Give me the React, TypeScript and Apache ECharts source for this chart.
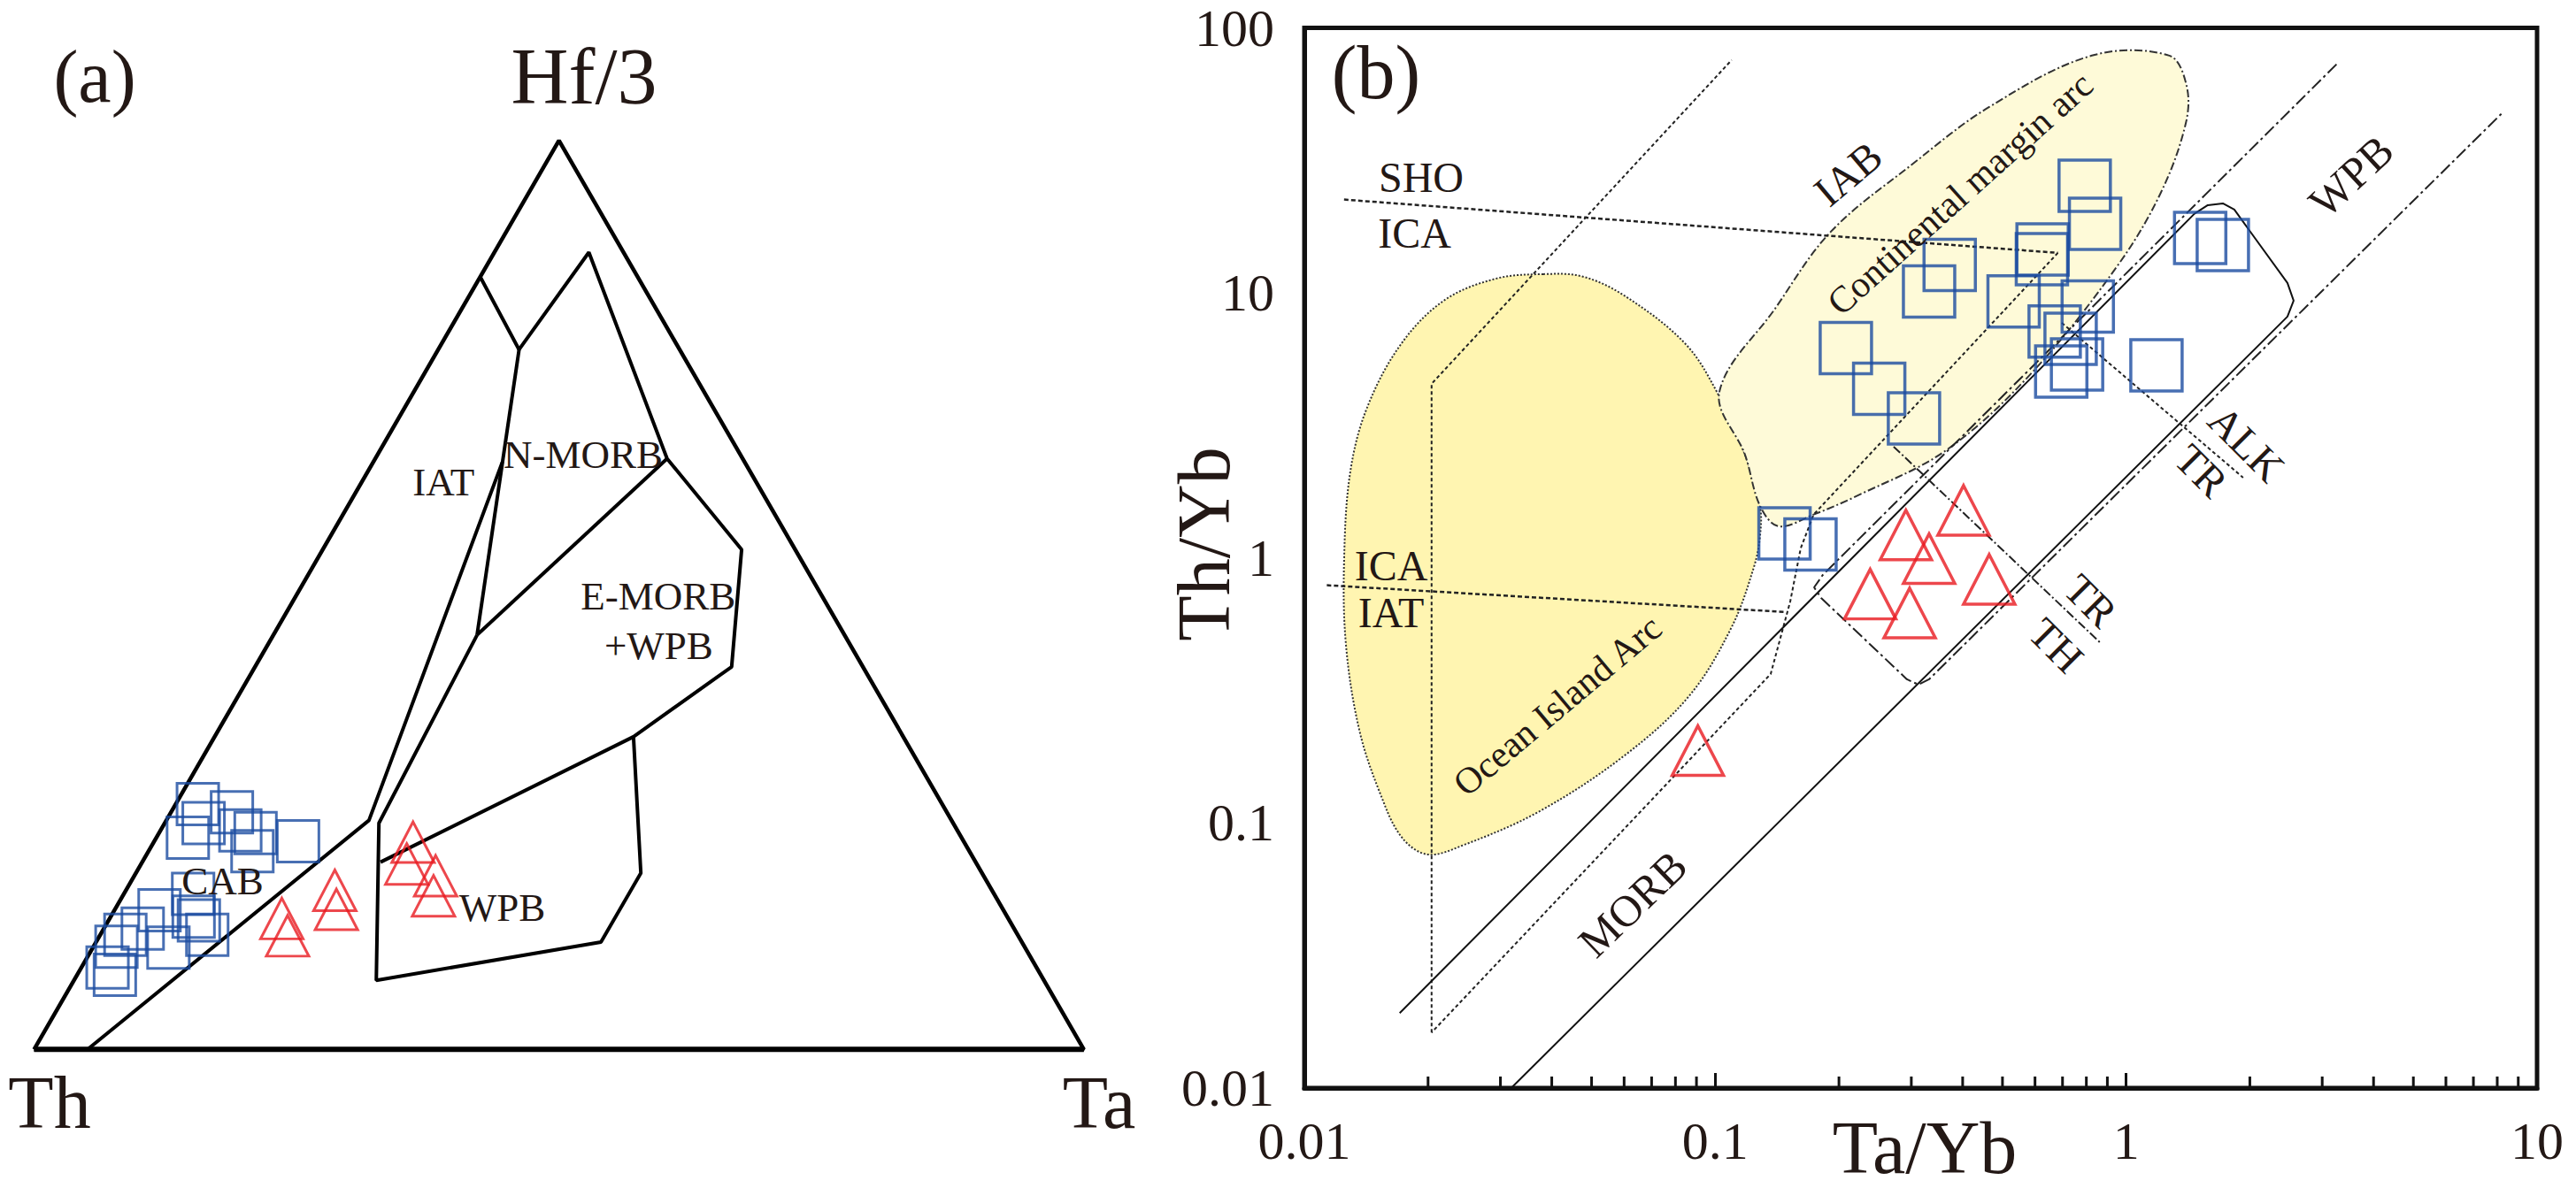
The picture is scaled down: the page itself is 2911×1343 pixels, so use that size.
import React, { useEffect, useRef } from "react";
import * as echarts from "echarts";

const SERIF = "'Liberation Serif', 'Times New Roman', serif";
const INK = "#231815";
const BLUE = "#1A4BA0";
const RED = "#E8191F";
const SQ3 = Math.sqrt(3) / 2;

// ---------- Panel (a): Th - Hf/3 - Ta ternary, values as [Th, Hf/3, Ta] (%) ----------
const ternSquares = [
  [70.9, 27.0, 2.1], [68.1, 26.1, 5.8], [71.4, 24.9, 3.7], [73.7, 23.3, 3.0],
  [68.3, 24.1, 7.6], [67.0, 23.8, 9.2], [68.3, 21.8, 9.9], [63.4, 22.9, 13.7],
  [76.3, 17.1, 6.6], [80.4, 15.3, 4.3], [77.5, 14.6, 7.9], [77.2, 14.2, 8.6],
  [77.2, 12.6, 10.2], [83.0, 13.3, 3.7], [85.0, 12.6, 2.4], [81.6, 11.2, 7.2],
  [86.5, 11.3, 2.2], [88.5, 9.0, 2.5], [88.2, 8.2, 3.6],
];
const ternTriangles = [
  [69.2, 14.4, 16.4], [69.6, 12.5, 17.9], [62.6, 17.5, 19.9], [63.5, 15.4, 21.1],
  [52.5, 22.8, 24.7], [54.3, 20.4, 25.3], [52.2, 19.1, 28.7], [53.5, 16.9, 29.6],
];
const ternCorners = [[100, 0, 0], [0, 0, 100], [0, 100, 0], [100, 0, 0]];
const ternBase = [[100, 0, 0], [0, 0, 100]];
const ternVertices: Record<string, number[]> = {
  A: [94.9, 0, 5.1], B: [55.5, 25.2, 19.3], C: [23.1, 64.6, 12.3],
  D: [15.0, 85.0, 0], E: [15.3, 77.0, 7.7], F: [3.3, 87.7, 9.0],
  G: [7.2, 65.0, 27.8], H: [5.1, 55.0, 39.9], I: [12.5, 42.1, 45.4],
  J: [25.7, 34.4, 39.9], K: [56.7, 20.6, 22.7], L: [35.0, 45.6, 19.4],
  M: [54.7, 24.9, 20.4], N: [63.6, 7.6, 28.8], O: [40.1, 11.8, 48.1],
  P: [32.5, 19.4, 48.1],
};
const ternBoundaries = [
  ["A", "B", "C"],
  ["D", "E", "F", "G", "H", "I", "J", "K"],
  ["E", "L"],
  ["G", "L"],
  ["L", "M", "N", "O", "P", "J"],
];
const ternLabels = [
  { text: "IAT", v: [29.8, 62.4, 7.8] },
  { text: "N-MORB", v: [15.0, 65.4, 19.6] },
  { text: "E-MORB", v: [15.6, 49.9, 34.5] },
  { text: "+WPB", v: [18.3, 44.4, 37.3] },
  { text: "CAB", v: [72.8, 18.5, 8.7] },
  { text: "WPB", v: [47.6, 15.6, 36.8] },
];

// ---------- Panel (b): Th/Yb vs Ta/Yb (log-log) ----------
const xTicks = [0.01, 0.1, 1, 10];
const yTicks = [0.01, 0.1, 1, 10, 100];
const minorTicks = [0.02, 0.03, 0.04, 0.05, 0.06, 0.07, 0.08, 0.09, 0.2, 0.3, 0.4, 0.5, 0.6, 0.7, 0.8, 0.9, 2, 3, 4, 5, 6, 7, 8, 9];

const bSquares = [
  [0.2079, 6.19], [0.2506, 4.35], [0.3045, 3.363], [0.1474, 1.238], [0.1705, 1.124],
  [0.3314, 10.12], [0.372, 12.75], [0.7927, 25.38], [0.8402, 18.24], [0.6237, 13.41],
  [0.626, 14.6], [0.5322, 9.29], [0.8064, 8.885], [0.6699, 7.157], [0.7325, 6.717],
  [0.7594, 5.374], [0.695, 5.053], [1.185, 5.333], [1.514, 16.13], [1.719, 15.17],
];
const bTriangles = [
  [0.402, 1.512], [0.4642, 0.8302], [0.3314, 0.9938], [0.291, 1.221],
  [0.2382, 0.7305], [0.2972, 0.6201], [0.0907, 0.1875],
];

const oceanArcField = [
  [0.03815, 11.77], [0.02934, 11.33], [0.022, 9.42], [0.01725, 6.46], [0.01422, 3.7],
  [0.01294, 2.12], [0.0125, 1.006], [0.01262, 0.4738], [0.0136, 0.2248], [0.01532, 0.1283],
  [0.01725, 0.0884], [0.01993, 0.0761], [0.02417, 0.0821], [0.03722, 0.1104], [0.06018, 0.1799],
  [0.08644, 0.302], [0.1096, 0.5483], [0.1242, 0.9247], [0.1285, 1.21], [0.1285, 1.572],
  [0.1181, 2.454], [0.101, 4.22], [0.0843, 6.46], [0.06018, 9.75], [0.04744, 11.54],
];
const contArcField = [
  [0.1023, 4.22], [0.1398, 8.72], [0.1911, 17.02], [0.3, 30.38], [0.4642, 50.3],
  [0.8252, 78.6], [1.273, 78.6], [1.403, 60.5], [1.396, 43.5], [1.214, 23.86],
  [0.9526, 12.66], [0.5888, 4.989], [0.3649, 2.55], [0.2228, 1.723], [0.1735, 1.458],
  [0.1426, 1.317], [0.1285, 1.572], [0.1181, 2.454],
];

const arcDivide = [[0.0204, 0.0162], [0.0204, 4.54], [0.1096, 75.6]];
const shoIca = [[0.01249, 22.5], [0.682, 14.16]];
const icaIat = [[0.01134, 0.789], [0.1484, 0.625]];
const arcLower = [[0.682, 14.16], [0.1735, 1.458], [0.1614, 1.087], [0.1522, 0.685], [0.1364, 0.3648], [0.0204, 0.0162]];
const morbArray = [
  [0.01706, 0.01917], [1.466, 19.89], [1.58, 21.43], [1.719, 21.76], [1.833, 20.62],
  [2.469, 10.9], [2.556, 9.35], [2.469, 8.14], [0.03186, 0.01],
];
const wpbArray = [
  [3.251, 72.9], [0.1827, 0.863], [0.174, 0.7747], [0.181, 0.7065], [0.2927, 0.3484],
  [0.3123, 0.3327], [0.3314, 0.3484], [8.3, 48.4],
];
const trThDivide = [[0.2717, 2.63], [0.8713, 0.4738]];
const alkTrDivide = [[0.6971, 7.71], [1.926, 2.01]];

const bLabels = [
  { text: "SHO", x: 0.01924, y: 27.2, rot: 0, size: 48 },
  { text: "ICA", x: 0.01855, y: 16.76, rot: 0, size: 48 },
  { text: "ICA", x: 0.01626, y: 0.9318, rot: 0, size: 48 },
  { text: "IAT", x: 0.01626, y: 0.62, rot: 0, size: 48 },
  { text: "IAB", x: 0.2103, y: 28.2, rot: 40, size: 48 },
  { text: "Continental margin arc", x: 0.3941, y: 23.68, rot: 42, size: 42 },
  { text: "Ocean Island Arc", x: 0.04127, y: 0.2777, rot: 40, size: 42 },
  { text: "MORB", x: 0.06292, y: 0.04957, rot: 44, size: 50 },
  { text: "WPB", x: 3.527, y: 27.6, rot: 43, size: 50 },
  { text: "ALK", x: 1.965, y: 2.701, rot: -45, size: 48 },
  { text: "TR", x: 1.526, y: 2.137, rot: -45, size: 48 },
  { text: "TR", x: 0.8209, y: 0.6904, rot: -45, size: 48 },
  { text: "TH", x: 0.6765, y: 0.4685, rot: -45, size: 48 },
];

function tern(v: number[]) {
  const s = v[0] + v[1] + v[2];
  return [(v[2] + v[1] / 2) / s, (v[1] * SQ3) / s];
}

function fmt(v: number) {
  return String(parseFloat(Number(v).toPrecision(3)));
}

function lineSeries(name: string, data: number[][], axis: number, style: any, z = 3) {
  return {
    name, type: "line", data, xAxisIndex: axis, yAxisIndex: axis,
    symbol: "none", showSymbol: false, clip: false, silent: true, z,
    lineStyle: style, animation: false,
  };
}

function textSeries(name: string, items: { text: string; x: number; y: number; rot: number; size: number }[], axis: number) {
  return {
    name, type: "custom", xAxisIndex: axis, yAxisIndex: axis, clip: false, silent: true, z: 6,
    data: items.map((l) => [l.x, l.y]),
    renderItem: (params: any, api: any) => {
      const l = items[params.dataIndex];
      const p = api.coord([l.x, l.y]);
      return {
        type: "text", x: p[0], y: p[1], rotation: (l.rot * Math.PI) / 180,
        style: { text: l.text, fontSize: l.size, fontFamily: SERIF, fill: INK, align: "center", verticalAlign: "middle" },
      };
    },
  };
}

function fieldSeries(name: string, pts: number[][], fill: string, stroke: string, dash: number[], width: number) {
  return {
    name, type: "custom", xAxisIndex: 1, yAxisIndex: 1, clip: false, silent: true, z: 1,
    data: [pts[0]],
    renderItem: (_params: any, api: any) => {
      const points = pts.map((p) => api.coord(p));
      return {
        type: "polygon",
        shape: { points, smooth: 0.35 },
        style: { fill, stroke, lineWidth: width, lineDash: dash },
      };
    },
  };
}

export default function App() {
  const ref = useRef<HTMLDivElement>(null);
  useEffect(() => {
    if (!ref.current) return;
    const chart = echarts.init(ref.current, undefined, { renderer: "svg" });

    const ternBoundarySeries = ternBoundaries.map((b, i) =>
      lineSeries("ternBoundary" + i, b.map((k) => tern(ternVertices[k])), 0, { color: "#000", width: 4, type: "solid" })
    );

    const option: any = {
      animation: false,
      backgroundColor: "#fff",
      textStyle: { fontFamily: SERIF },
      grid: [
        { left: 38.5, top: 158.9, width: 1186.3, height: 1027.4, show: false },
        { left: 1474, top: 31.5, width: 1393, height: 1198.5, show: true, borderColor: "#111", borderWidth: 5, backgroundColor: "transparent" },
      ],
      xAxis: [
        { gridIndex: 0, type: "value", min: 0, max: 1, show: false },
        {
          gridIndex: 1, type: "log", logBase: 10, min: xTicks[0], max: xTicks[xTicks.length - 1],
          axisLine: { show: true, lineStyle: { color: "#111", width: 5 } },
          axisTick: { show: true, inside: true, length: 17, lineStyle: { color: "#111", width: 3 } },
          axisLabel: { fontSize: 60, fontFamily: SERIF, color: INK, margin: 30, formatter: fmt },
          splitLine: { show: false },
        },
      ],
      yAxis: [
        { gridIndex: 0, type: "value", min: 0, max: SQ3, show: false },
        {
          gridIndex: 1, type: "log", logBase: 10, min: yTicks[0], max: yTicks[yTicks.length - 1],
          axisLine: { show: true, lineStyle: { color: "#111", width: 5 } },
          axisTick: { show: false },
          axisLabel: { fontSize: 60, fontFamily: SERIF, color: INK, margin: 34, formatter: fmt },
          splitLine: { show: false },
        },
      ],
      graphic: [
        { type: "text", x: 107, y: 86, style: { text: "(a)", fontSize: 84, fontFamily: SERIF, fill: INK, align: "center", verticalAlign: "middle" } },
        { type: "text", x: 660, y: 86, style: { text: "Hf/3", fontSize: 90, fontFamily: SERIF, fill: INK, align: "center", verticalAlign: "middle" } },
        { type: "text", x: 56, y: 1246, style: { text: "Th", fontSize: 84, fontFamily: SERIF, fill: INK, align: "center", verticalAlign: "middle" } },
        { type: "text", x: 1242, y: 1246, style: { text: "Ta", fontSize: 84, fontFamily: SERIF, fill: INK, align: "center", verticalAlign: "middle" } },
        { type: "text", x: 1555, y: 82, style: { text: "(b)", fontSize: 86, fontFamily: SERIF, fill: INK, align: "center", verticalAlign: "middle" } },
        { type: "text", x: 2175, y: 1297, style: { text: "Ta/Yb", fontSize: 84, fontFamily: SERIF, fill: INK, align: "center", verticalAlign: "middle" } },
        { type: "text", x: 1360, y: 615, rotation: Math.PI / 2, style: { text: "Th/Yb", fontSize: 84, fontFamily: SERIF, fill: INK, align: "center", verticalAlign: "middle" } },
      ],
      series: [
        // ----- panel (a) -----
        lineSeries("ternFrame", ternCorners.map(tern), 0, { color: "#000", width: 4.5 }),
        lineSeries("ternBase", ternBase.map(tern), 0, { color: "#000", width: 6 }),
        ...ternBoundarySeries,
        {
          name: "ternSquares", type: "scatter", xAxisIndex: 0, yAxisIndex: 0, data: ternSquares.map(tern),
          symbol: "rect", symbolSize: 47, clip: false, z: 4,
          itemStyle: { color: "rgba(0,0,0,0)", borderColor: BLUE, borderWidth: 3 },
        },
        {
          name: "ternTriangles", type: "scatter", xAxisIndex: 0, yAxisIndex: 0, data: ternTriangles.map(tern),
          symbol: "triangle", symbolSize: [48, 46], clip: false, z: 4,
          itemStyle: { color: "rgba(0,0,0,0)", borderColor: RED, borderWidth: 3 },
        },
        textSeries("ternLabels", ternLabels.map((l) => {
          const c = tern(l.v);
          return { text: l.text, x: c[0], y: c[1], rot: 0, size: 45 };
        }), 0),
        // ----- panel (b) -----
        fieldSeries("Ocean Island Arc", oceanArcField, "#FFF5B1", "#333", [2, 2], 2),
        fieldSeries("Continental margin arc", contArcField, "#FEFAD8", "#333", [9, 3, 2, 3], 2),
        lineSeries("arcDivide", arcDivide, 1, { color: "#222", width: 2, type: [4, 3] }),
        lineSeries("shoIca", shoIca, 1, { color: "#222", width: 2.5, type: [5, 3] }),
        lineSeries("icaIat", icaIat, 1, { color: "#222", width: 2.5, type: [5, 3] }),
        lineSeries("arcLower", arcLower, 1, { color: "#222", width: 2, type: [4, 3] }),
        lineSeries("morbArray", morbArray, 1, { color: "#111", width: 2, type: "solid" }),
        lineSeries("wpbArray", wpbArray, 1, { color: "#222", width: 2, type: [14, 4, 3, 4] }),
        lineSeries("trThDivide", trThDivide, 1, { color: "#222", width: 2, type: [10, 3, 2, 3] }),
        lineSeries("alkTrDivide", alkTrDivide, 1, { color: "#222", width: 2, type: [4, 3] }),
        {
          name: "minorTicks", type: "custom", xAxisIndex: 1, yAxisIndex: 1, clip: false, silent: true, z: 5,
          data: minorTicks.map((v) => [v, yTicks[0]]),
          renderItem: (_p: any, api: any) => {
            const p = api.coord([api.value(0), api.value(1)]);
            return { type: "line", shape: { x1: p[0], y1: p[1], x2: p[0], y2: p[1] - 13 }, style: { stroke: "#111", lineWidth: 3 } };
          },
        },
        {
          name: "bSquares", type: "scatter", xAxisIndex: 1, yAxisIndex: 1, data: bSquares,
          symbol: "rect", symbolSize: 58, clip: false, z: 4,
          itemStyle: { color: "rgba(0,0,0,0)", borderColor: BLUE, borderWidth: 3.5 },
        },
        {
          name: "bTriangles", type: "scatter", xAxisIndex: 1, yAxisIndex: 1, data: bTriangles,
          symbol: "triangle", symbolSize: [58, 56], clip: false, z: 4,
          itemStyle: { color: "rgba(0,0,0,0)", borderColor: RED, borderWidth: 3.5 },
        },
        textSeries("bLabels", bLabels, 1),
      ],
    };
    chart.setOption(option);
    return () => chart.dispose();
  }, []);
  return (
    <div
      ref={ref}
      style={{ position: "absolute", left: 0, top: 0, width: "2911px", height: "1343px", background: "#fff" }}
    />
  );
}
